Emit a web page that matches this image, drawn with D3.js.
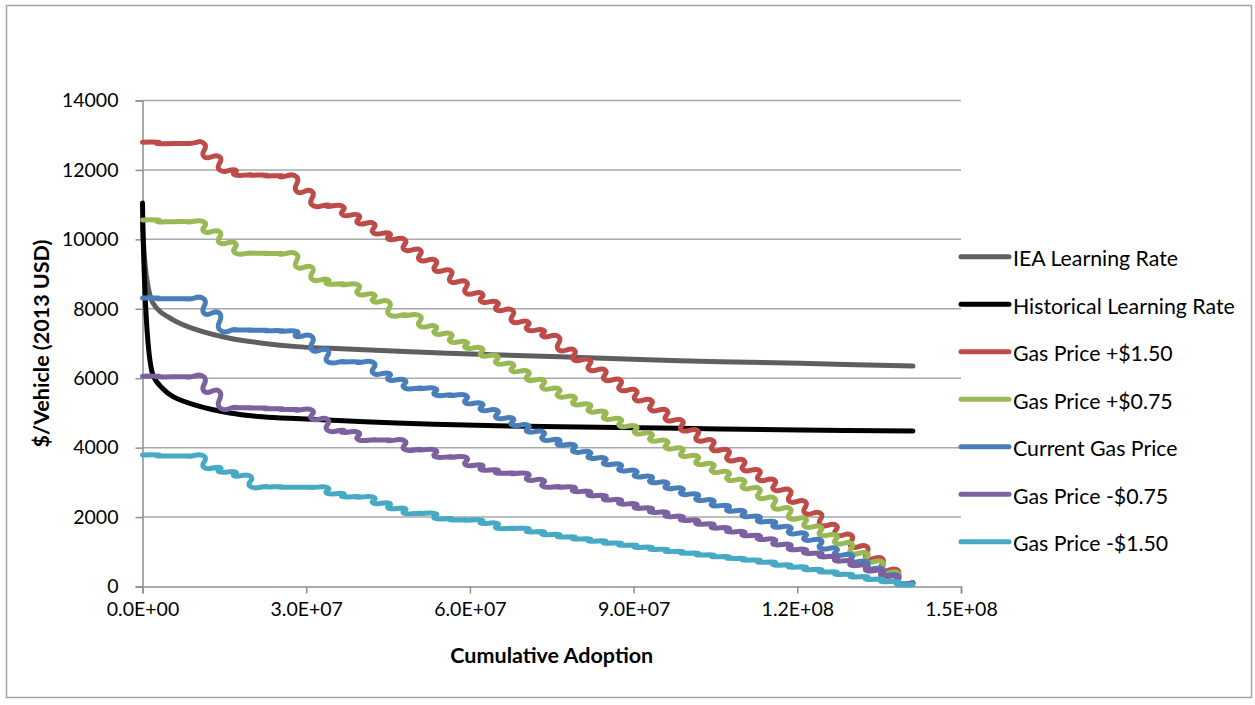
<!DOCTYPE html>
<html>
<head>
<meta charset="utf-8">
<script src="https://cdn.jsdelivr.net/npm/d3@7"></script>
<style>
  body { margin: 0; background: #fff; }
  text { font-family: Lato, "Open Sans", sans-serif; fill: #000; }
</style>
</head>
<body>
<svg id="chart" width="1255" height="705"></svg>
<script>
// Cumulative adoption at each step boundary of the price schedules
const adoption = [
  0, 2.82e6, 5.65e6, 8.47e6, 11.30e6, 14.12e6, 16.94e6, 19.77e6, 22.59e6, 25.42e6,
  28.24e6, 31.06e6, 33.89e6, 36.71e6, 39.54e6, 42.36e6, 45.18e6, 48.01e6, 50.83e6, 53.66e6,
  56.48e6, 59.30e6, 62.13e6, 64.95e6, 67.78e6, 70.60e6, 73.42e6, 76.25e6, 79.07e6, 81.90e6,
  84.72e6, 87.54e6, 90.37e6, 93.19e6, 96.02e6, 98.84e6, 101.66e6, 104.49e6, 107.31e6, 110.14e6,
  112.96e6, 115.78e6, 118.61e6, 121.43e6, 124.26e6, 127.08e6, 129.90e6, 132.73e6, 135.55e6, 138.38e6,
  141.20e6
];

// $/vehicle held over each adoption step
const gasPlus150 = [12800,12760,12760,12760,12380,12000,11860,11850,11830,11800,11380,10990,10950,10700,10460,10180,10000,9700,9400,9100,8780,8450,8200,7960,7630,7390,7200,6820,6530,6240,5950,5660,5370,5080,4790,4500,4210,3930,3640,3350,3070,2780,2450,2110,1770,1480,1150,810,475,110];
const gasPlus075 = [10560,10510,10510,10500,10220,9900,9610,9600,9590,9570,9200,8850,8720,8690,8420,8200,7830,7800,7500,7280,7050,6870,6650,6420,6200,5950,5700,5470,5250,5040,4830,4620,4410,4200,3980,3760,3530,3300,3070,2830,2550,2250,1960,1720,1480,1240,960,710,400,100];
const gasCurrent = [8310,8290,8290,8280,7870,7400,7390,7380,7370,7350,7200,6810,6480,6470,6450,6140,5950,5720,5700,5520,5500,5280,5080,4850,4650,4460,4230,4080,3880,3700,3520,3340,3170,3000,2830,2660,2490,2330,2180,2020,1870,1720,1530,1340,1100,910,720,520,330,110];
const gasMinus075 = [6060,6040,6040,6030,5620,5160,5150,5140,5120,5100,5080,4820,4500,4440,4230,4220,4200,3950,3930,3740,3720,3500,3360,3270,3250,3070,2880,2860,2740,2620,2500,2380,2260,2140,2020,1910,1800,1690,1580,1470,1360,1210,1070,960,860,740,610,460,290,100];
const gasMinus150 = [3790,3760,3760,3750,3430,3300,3180,2880,2870,2860,2860,2850,2680,2590,2570,2400,2250,2110,2100,1960,1920,1910,1820,1680,1670,1580,1500,1430,1370,1310,1250,1190,1130,1070,1010,960,910,860,810,760,700,620,560,490,420,350,280,210,140,60];

// Learning-rate cost curves
const ieaAdoption = [0, 1.9e6, 5.6e6, 10e6, 16e6, 22e6, 28.3e6, 34.4e6, 56e6, 76.5e6, 98.5e6, 120.5e6, 141.2e6];
const ieaCost     = [10500, 8170, 7680, 7390, 7150, 7010, 6910, 6860, 6720, 6620, 6505, 6430, 6350];
const histAdoption = [0, 1.9e6, 3.6e6, 5.6e6, 10e6, 16e6, 22e6, 29e6, 46.6e6, 65e6, 76.5e6, 98.5e6, 120.5e6, 141.2e6];
const histCost     = [11050, 6100, 5720, 5470, 5210, 5000, 4890, 4830, 4710, 4630, 4600, 4557, 4508, 4479];

const seriesNames = ["IEA Learning Rate", "Historical Learning Rate", "Gas Price +$1.50",
                     "Gas Price +$0.75", "Current Gas Price", "Gas Price -$0.75", "Gas Price -$1.50"];
const seriesColors = ["#5f5f5f", "#000000", "#be4b48", "#98b954", "#4a7ebb", "#7d60a0", "#46aac5"];

const yTicks = [0, 2000, 4000, 6000, 8000, 10000, 12000, 14000];
const xTicks = [0, 3e7, 6e7, 9e7, 1.2e8, 1.5e8];

const svg = d3.select("#chart");
const plot = { left: 142.5, right: 961, top: 100.5, bottom: 586.5 };

const x = d3.scaleLinear().domain([0, 1.5e8]).range([plot.left, plot.right]);
const y = d3.scaleLinear().domain([0, 14000]).range([plot.bottom, plot.top]);

// chart frame
svg.append("rect")
  .attr("x", 6.5).attr("y", 5.5).attr("width", 1245).attr("height", 692)
  .attr("fill", "#fff").attr("stroke", "#a3a3a3").attr("stroke-width", 1.5);

// horizontal gridlines
svg.append("g").selectAll("line").data(yTicks.filter(d => d > 0)).join("line")
  .attr("x1", plot.left).attr("x2", plot.right)
  .attr("y1", d => y(d)).attr("y2", d => y(d))
  .attr("stroke", "#a9a9a9").attr("stroke-width", 1.5);

const fmtSci = d => {
  if (d === 0) return "0.0E+00";
  const e = Math.floor(Math.log10(d));
  const m = d / Math.pow(10, e);
  return m.toFixed(1) + "E+" + String(e).padStart(2, "0");
};

const yAxis = svg.append("g").attr("transform", `translate(${plot.left},0)`)
  .call(d3.axisLeft(y).tickValues(yTicks).tickSize(7).tickPadding(17).tickFormat(d3.format("d")));
const xAxis = svg.append("g").attr("transform", `translate(0,${plot.bottom})`)
  .call(d3.axisBottom(x).tickValues(xTicks).tickSize(7).tickPadding(9).tickFormat(fmtSci));

[yAxis, xAxis].forEach(g => {
  g.select(".domain").attr("stroke", "#8f8f8f").attr("stroke-width", 1.5);
  g.selectAll(".tick line").attr("stroke", "#8f8f8f").attr("stroke-width", 1.5);
  g.selectAll(".tick text").attr("font-size", 19.5).attr("font-family", "Lato, sans-serif").attr("fill", "#000");
});

// axis titles
svg.append("text")
  .attr("x", (plot.left + plot.right) / 2).attr("y", 663)
  .attr("text-anchor", "middle").attr("font-weight", "bold").attr("font-size", 21.5)
  .text("Cumulative Adoption");
svg.append("text")
  .attr("transform", `translate(49,${(plot.top + plot.bottom) / 2}) rotate(-90)`)
  .attr("text-anchor", "middle").attr("font-weight", "bold").attr("font-size", 21.5)
  .text("$/Vehicle (2013 USD)");

// staircase corners for a step schedule
function stairs(levels) {
  const pts = [[adoption[0], levels[0]]];
  for (let k = 0; k < levels.length; k++) {
    pts.push([adoption[k + 1], levels[k]]);
    if (k + 1 < levels.length && levels[k + 1] !== levels[k]) pts.push([adoption[k + 1], levels[k + 1]]);
  }
  return pts;
}

const smoothLine = d3.line().x(d => x(d[0])).y(d => y(d[1])).curve(d3.curveCatmullRom.alpha(0.5));
const stepLine = d3.line().x(d => x(d[0])).y(d => y(d[1])).curve(d3.curveCardinal.tension(-1));

const seriesData = [
  { path: smoothLine(d3.zip(ieaAdoption, ieaCost)) },
  { path: smoothLine(d3.zip(histAdoption, histCost)) },
  { path: stepLine(stairs(gasPlus150)) },
  { path: stepLine(stairs(gasPlus075)) },
  { path: stepLine(stairs(gasCurrent)) },
  { path: stepLine(stairs(gasMinus075)) },
  { path: stepLine(stairs(gasMinus150)) }
];

svg.append("g").selectAll("path").data(seriesData).join("path")
  .attr("d", d => d.path)
  .attr("fill", "none")
  .attr("stroke", (d, i) => seriesColors[i])
  .attr("stroke-width", 5)
  .attr("stroke-linejoin", "round")
  .attr("stroke-linecap", "round");

// legend
const legendY = d3.scalePoint().domain(seriesNames).range([256.7, 541.7]);
const legend = svg.append("g").selectAll("g").data(seriesNames).join("g")
  .attr("transform", d => `translate(0,${legendY(d)})`);
legend.append("line")
  .attr("x1", 961).attr("x2", 1009).attr("y1", 0).attr("y2", 0)
  .attr("stroke", (d, i) => seriesColors[i]).attr("stroke-width", 5).attr("stroke-linecap", "round");
legend.append("text")
  .attr("x", 1013).attr("y", 9.5).attr("font-size", 21.3)
  .text(d => d);
</script>
</body>
</html>
